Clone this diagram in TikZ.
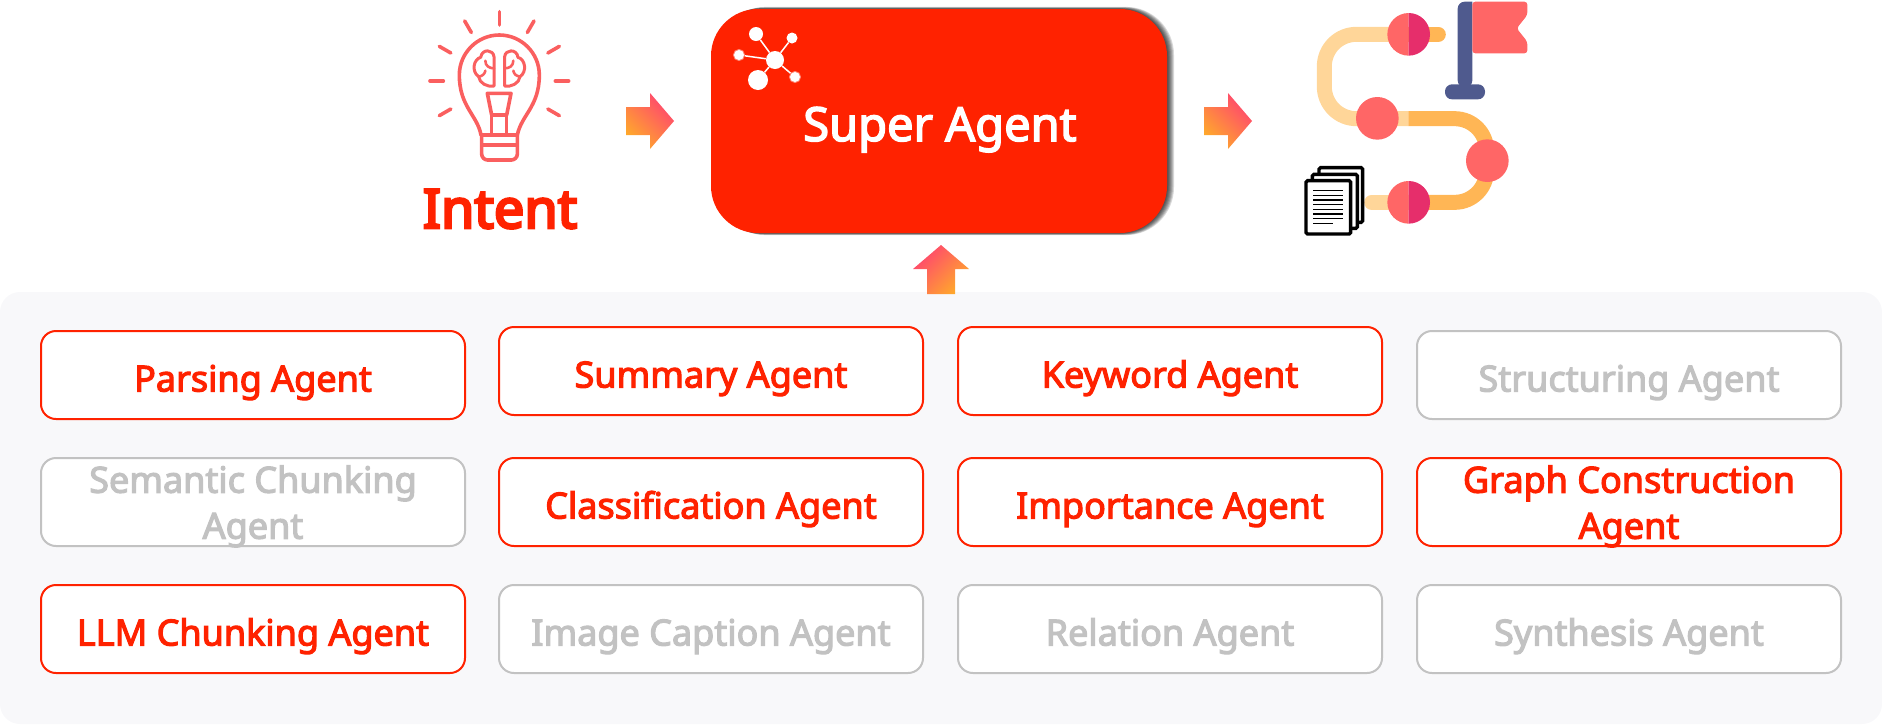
\documentclass[tikz,border=0pt]{standalone}
\usepackage{fontspec}
\setmainfont{Noto Sans}
\newfontfamily\agentfont{Noto Sans}[FakeBold=3.2]
\newfontfamily\intentfont{Noto Sans}[FakeBold=5]
\usetikzlibrary{positioning,shapes}
\definecolor{superred}{HTML}{FF2200}
\definecolor{offgrey}{HTML}{C2C2C2}
\definecolor{panelgrey}{HTML}{F8F8FA}
\definecolor{bulbred}{HTML}{FA5F5F}
\definecolor{arrowpink}{HTML}{FF4470}
\definecolor{arroworange}{HTML}{FFA92B}
\definecolor{roadlight}{HTML}{FFD699}
\definecolor{roadorange}{HTML}{FFB655}
\definecolor{coral}{HTML}{FF6666}
\definecolor{coraldark}{HTML}{E62E6B}
\definecolor{flagnavy}{HTML}{4F5A8E}
\tikzset{
	agent/.style={rounded corners=15pt,line width=2pt,minimum width=424pt,minimum height=88pt,
		inner sep=0pt,text depth=0pt,align=center,fill=white,
		execute at begin node={\rule{0pt}{33pt}},
		font=\agentfont\fontsize{36}{46}\selectfont},
	agenton/.style={agent,draw=superred,text=superred},
	agentoff/.style={agent,draw=offgrey,text=offgrey},
	atom/.style={circle,fill=white,inner sep=0pt},
	glowatom/.style={atom,draw=white,draw opacity=0.45,line width=2pt},
	bigarrow/.style={top color=arrowpink,bottom color=arroworange,draw=none},
}
\begin{document}
\begin{tikzpicture}[x=1pt,y=-1pt]
	\useasboundingbox (0,0) rectangle (1882,724);
	% panel behind the agents
	\fill[panelgrey,rounded corners=20pt] (0,292) rectangle (1882,724);
	\node[agenton] (parsing) at (253,375) {Parsing Agent};
	\node[agenton] (summary) at (711,371) {Summary Agent};
	\node[agenton] (keyword) at (1170,371) {Keyword Agent};
	\node[agentoff] (structuring) at (1629,375) {Structuring Agent};
	\node[agentoff] (semantic) at (253,502) {Semantic Chunking\\Agent};
	\node[agenton] (classification) at (711,502) {Classification Agent};
	\node[agenton] (importance) at (1170,502) {Importance Agent};
	\node[agenton] (graph) at (1629,502) {Graph Construction\\Agent};
	\node[agenton] (llm) at (253,629) {LLM Chunking Agent};
	\node[agentoff] (caption) at (711,629) {Image Caption Agent};
	\node[agentoff] (relation) at (1170,629) {Relation Agent};
	\node[agentoff] (synthesis) at (1629,629) {Synthesis Agent};
	% super agent box with its soft shadow
	\foreach \d in {1,...,7}
		\fill[black,opacity=0.15,rounded corners=48pt] (711+\d,9-\d*0.3) rectangle (1167+\d,233+\d*0.3);
	\node[fill=superred,rounded corners=47pt,minimum width=456pt,minimum height=224pt,inner sep=0pt] (super) at (939,121) {};
	\node[text=white,anchor=base,font=\agentfont\fontsize{47}{50}\selectfont] (superlabel) at (940,141) {Super Agent};
	\node[text=superred,anchor=base,font=\intentfont\fontsize{54}{60}\selectfont] (intent) at (500,228) {Intent};
	% atoms in the corner of the box
	\begin{scope}[shift={(725,20)}]
		\node[atom,minimum size=18pt] (hub) at (50,40) {};
		\node[atom,minimum size=14pt] (atoma) at (31,14) {};
		\node[atom,minimum size=11pt] (atomb) at (67,18) {};
		\node[glowatom,minimum size=10pt] (atomc) at (14,35) {};
		\node[atom,minimum size=20pt] (atomd) at (33,60) {};
		\node[glowatom,minimum size=10pt] (atome) at (70,57) {};
		\draw[white,line width=1.5pt] (hub) -- (atoma) (hub) -- (atomb) (hub) -- (atomc) (hub) -- (atomd) (hub) -- (atome);
	\end{scope}
	% block arrows
	\shade[bigarrow,shading angle=-45] (626,107) -- (650,107) -- (650,93) -- (674,121) -- (650,149) -- (650,135) -- (626,135) -- cycle;
	\shade[bigarrow,shading angle=-45] (1204,107) -- (1228,107) -- (1228,93) -- (1252,121) -- (1228,149) -- (1228,135) -- (1204,135) -- cycle;
	\shade[bigarrow,shading angle=45] (927,294) -- (927,269) -- (913,269) -- (941,245) -- (969,269) -- (955,269) -- (955,294) -- cycle;
	% light bulb
	\begin{scope}[shift={(400,0)},scale=1/3,draw=bulbred,line width=3.6pt,line cap=round,line join=round]
		\foreach \a in {30,0,-30,-60,-90,-120,-150,-180,-210}
			\draw (298,243)+(\a:168) -- +(\a:208);
		\draw (243,405) .. controls (232,345) and (178,320) .. (178,225) .. controls (178,159) and (232,105) .. (298,105) .. controls (364,105) and (418,159) .. (418,225) .. controls (418,320) and (364,345) .. (352,405) -- cycle;
		\draw[rounded corners=6pt] (245,405) -- (245,480) -- (352,480) -- (352,405);
		\draw (247,435) -- (350,435);
		\draw (262,280) -- (333,280) -- (320,345) -- (275,345) -- cycle;
		\draw (275,345) -- (275,405) (320,345) -- (320,405);
		\foreach \s in {1,-1} {
			\begin{scope}[shift={(298,0)},xscale=\s]
				\draw[line width=3pt] (-16,170) .. controls (-18,148) and (-52,145) .. (-56,172) .. controls (-78,178) and (-84,215) .. (-62,230) .. controls (-60,250) and (-35,262) .. (-16,258) -- cycle;
				\draw[line width=2.6pt] (-16,205) .. controls (-30,205) and (-42,198) .. (-42,182) (-62,230) .. controls (-50,228) and (-44,222) .. (-42,212);
			\end{scope}
		}
	\end{scope}
	% road and flag
	\begin{scope}[shift={(1190,0)},scale=1/3]
		\draw[roadlight,line width=15pt,rounded corners=32pt] (655,103) -- (403,103) -- (403,356) -- (655,356);
		\draw[roadorange,line width=15pt,rounded corners=32pt] (655,356) -- (890,356) -- (890,607) -- (655,607);
		\draw[roadorange,line width=15pt,line cap=round] (655,103) -- (745,103);
		\draw[roadlight,line width=15pt,line cap=round] (655,607) -- (545,607);
		\fill[coral] (562,355) circle[radius=64];
		\fill[coral] (892,482) circle[radius=64];
		\foreach \c in {103,607} {
			\fill[coral] (656,\c-64) arc[start angle=-90,end angle=-270,radius=64] -- cycle;
			\fill[coraldark] (656,\c-64) arc[start angle=-90,end angle=90,radius=64] -- cycle;
		}
		\fill[flagnavy] (847,262) -- (847,5) [rounded corners=7pt] -- (803,5) -- (803,262) -- cycle;
		\fill[flagnavy,rounded corners=7pt] (765,253) rectangle (885,298);
		\fill[coral,rounded corners=3pt] (847,5) -- (1012,5) -- (1012,45) -- (980,85) -- (1012,125) -- (1012,160) -- (847,160) -- cycle;
	\end{scope}
	% stack of sheets
	\begin{scope}[shift={(1295,160)},scale=1/3,draw=black,fill=white,rounded corners=1.5pt,line width=3.4pt]
		\filldraw (72,23) rectangle (203,187);
		\filldraw (52,43) rectangle (187,205);
		\filldraw (33,62) rectangle (167,222);
		\foreach \l in {92,106,...,176}
			\draw[line width=1.6pt,rounded corners=0pt] (55,\l) -- (143,\l);
		\draw[line width=1.6pt,rounded corners=0pt] (55,190) -- (115,190);
	\end{scope}
\end{tikzpicture}
\end{document}
